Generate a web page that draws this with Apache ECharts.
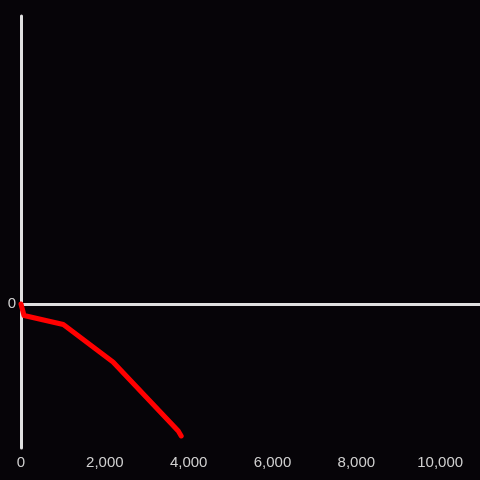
<!DOCTYPE html>
<html>
<head>
<meta charset="utf-8">
<script src="https://cdn.jsdelivr.net/npm/echarts@6/dist/echarts.min.js"></script>
<style>
  html, body { margin: 0; padding: 0; background: #060408; }
  #chart { width: 480px; height: 480px; }
</style>
</head>
<body>
<div id="chart"></div>
<script>
// data
const xValues = [0, 72, 1009, 2195, 3752, 3822];
const yValues = [0, -11.5, -20.5, -58, -127, -132];
const xTicks = [0, 2000, 4000, 6000, 8000, 10000];

const points = xValues.map((x, i) => [x, yValues[i]]);

const labelStyle = {
  color: '#d0d0d0',
  fontSize: 15,
  fontFamily: 'Liberation Sans'
};

const myChart = echarts.init(document.getElementById('chart'));
const option = {
  backgroundColor: '#060408',
  animation: false,
  grid: { left: 21, right: 0, top: 16, bottom: 32 },
  xAxis: [
    {
      type: 'value',
      min: 0,
      max: 10950,
      interval: 2000,
      axisLine: { show: false, onZero: false },
      axisTick: { show: false },
      splitLine: { show: false },
      axisLabel: Object.assign({}, labelStyle, {
        margin: 7,
        showMaxLabel: false,
        formatter: (v) => xTicks.includes(v) ? v.toLocaleString('en-US') : ''
      })
    },
    {
      // zero line only
      type: 'value',
      position: 'bottom',
      min: 0,
      max: 10950,
      axisLine: { show: true, onZero: true, lineStyle: { color: '#e0e0e0', width: 3 } },
      axisTick: { show: false },
      axisLabel: { show: false },
      splitLine: { show: false }
    }
  ],
  yAxis: {
    type: 'value',
    min: -144,
    max: 288,
    interval: 144,
    axisLine: { show: true, onZero: false, lineStyle: { color: '#e0e0e0', width: 3 } },
    axisTick: { show: false },
    splitLine: { show: false },
    axisLabel: Object.assign({}, labelStyle, {
      margin: 5,
      padding: [4, 0, 0, 0],
      formatter: (v) => v === 0 ? '0' : ''
    })
  },
  series: [
    {
      type: 'line',
      data: points,
      symbol: 'none',
      lineStyle: { color: '#ff0000', width: 5, cap: 'round', join: 'round' },
      z: 3
    }
  ]
};
myChart.setOption(option);
</script>
</body>
</html>
